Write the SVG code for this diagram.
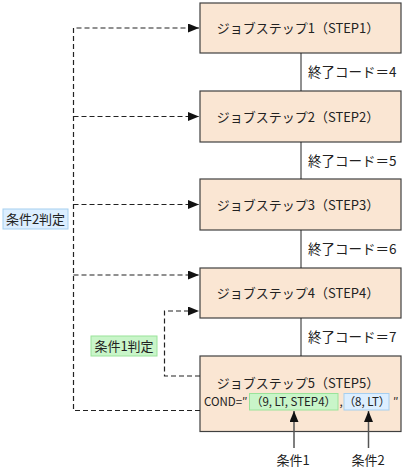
<svg xmlns="http://www.w3.org/2000/svg" width="405" height="472" viewBox="0 0 405 472">
<defs>
<style>
text{font-family:"Noto Sans CJK JP","Noto Sans",sans-serif;font-size:13px;fill:#222}
.box{fill:#FAE6D3;stroke:#404040;stroke-width:1.2}
.solid{stroke:#222;stroke-width:1;fill:none}
.dash{stroke:#222;stroke-width:1.2;fill:none;stroke-dasharray:5 3}
.up{stroke:#555;stroke-width:1.5;fill:none}
.g{fill:#C9F5C9;stroke:#9AE39A;stroke-width:1}
.b{fill:#DCEEFF;stroke:#A6CFF0;stroke-width:1}
.m{text-anchor:middle}
.e{font-size:13.5px}
.c{font-size:11.5px}
</style>
<marker id="ah" markerWidth="11" markerHeight="9" refX="11" refY="4.5" orient="auto" markerUnits="userSpaceOnUse">
<path d="M0,0 L11,4.5 L0,9 Z" fill="#111"/>
</marker>
</defs>
<g id="step1"><rect class="box" x="200" y="3" width="201" height="50"/><text class="m" x="298" y="33">ジョブステップ1（STEP1）</text></g>
<g id="step2"><rect class="box" x="200" y="91" width="201" height="51"/><text class="m" x="298" y="121.5">ジョブステップ2（STEP2）</text></g>
<g id="step3"><rect class="box" x="200" y="179" width="201" height="51"/><text class="m" x="298" y="209.5">ジョブステップ3（STEP3）</text></g>
<g id="step4"><rect class="box" x="200" y="268" width="201" height="50"/><text class="m" x="298" y="298">ジョブステップ4（STEP4）</text></g>
<g id="step5">
<rect class="box" x="200" y="356" width="201" height="75.5"/>
<text class="m" x="298" y="388">ジョブステップ5（STEP5）</text>
<rect class="g" x="249.5" y="393.5" width="88.5" height="16.5"/>
<rect class="b" x="344" y="393.5" width="45" height="16.5"/>
<text class="c" x="204" y="406">COND=″</text>
<text class="c m" x="293.5" y="406">（9, LT, STEP4）</text>
<text class="c" x="339.5" y="406">,</text>
<text class="c m" x="367" y="406">（8, LT）</text>
<text class="c" x="393" y="406">″</text>
</g>
<g id="exit4"><text class="e" x="308" y="77">終了コード＝4</text></g>
<g id="exit5"><text class="e" x="308" y="165.5">終了コード＝5</text></g>
<g id="exit6"><text class="e" x="308" y="254">終了コード＝6</text></g>
<g id="exit7"><text class="e" x="308" y="342">終了コード＝7</text></g>
<g id="cond2judge"><rect class="b" x="3" y="209" width="65" height="20"/><text class="m" x="35.5" y="224">条件2判定</text></g>
<g id="cond1judge"><rect class="g" x="91" y="336" width="66" height="20"/><text class="m" x="124" y="351">条件1判定</text></g>
<g id="cond1"><text class="m" x="293" y="465">条件1</text></g>
<g id="cond2"><text class="m" x="368" y="465">条件2</text></g>
<g id="connectors">
<line class="solid" x1="301" y1="53" x2="301" y2="91"/>
<line class="solid" x1="301" y1="142" x2="301" y2="179"/>
<line class="solid" x1="301" y1="230" x2="301" y2="268"/>
<line class="solid" x1="301" y1="318" x2="301" y2="356"/>
<path class="dash" d="M200,410.5 H73.5 V28 H199" marker-end="url(#ah)"/>
<path class="dash" d="M73.5,116.5 H199" marker-end="url(#ah)"/>
<path class="dash" d="M73.5,204.5 H199" marker-end="url(#ah)"/>
<path class="dash" d="M73.5,275 H199" marker-end="url(#ah)"/>
<path class="dash" d="M200,376 H164.5 V311 H199" marker-end="url(#ah)"/>
<line class="up" x1="294" y1="448" x2="294" y2="411" marker-end="url(#ah)"/>
<line class="up" x1="368.5" y1="448" x2="368.5" y2="411" marker-end="url(#ah)"/>
</g>
</svg>
